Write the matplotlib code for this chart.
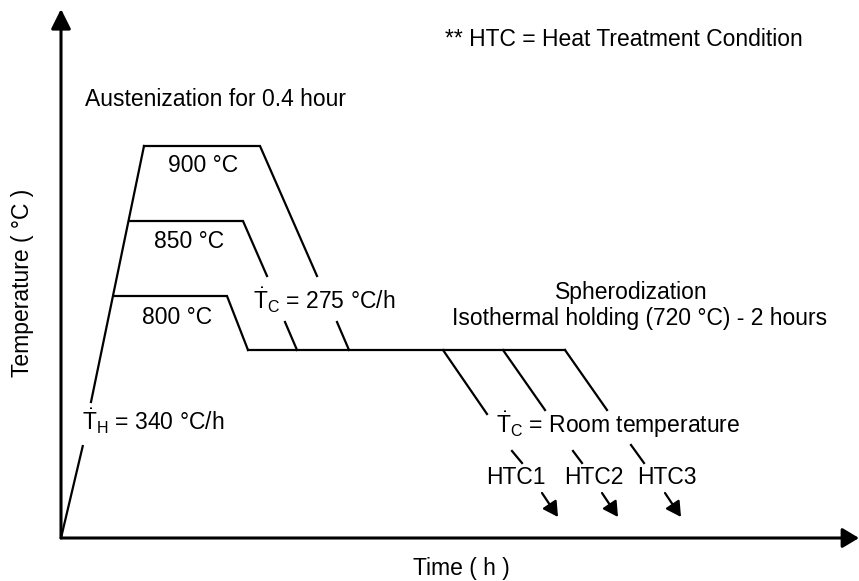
import matplotlib
matplotlib.use("Agg")
import matplotlib.pyplot as plt

plt.rcParams['font.family'] = ['Liberation Sans', 'DejaVu Sans']
plt.rcParams['mathtext.fontset'] = 'custom'
plt.rcParams['mathtext.rm'] = 'Liberation Sans'
plt.rcParams['mathtext.it'] = 'Liberation Sans:italic'
plt.rcParams['mathtext.bf'] = 'Liberation Sans:bold'

# ---- schematic geometry (canvas units, y grows downward) ----
origin = (61, 538)
x_axis_end = 859
y_axis_end = 9

# heating ramp (split around label)
heat_low_x = [61, 83]
heat_low_y = [538, 445]
heat_up_x = [91, 144]
heat_up_y = [402, 146]

# austenization plateaus: start x, end x, level y
plateau_labels = ["900", "850", "800"]
plateau_x0 = [144, 130, 114]
plateau_x1 = [260, 243, 227]
plateau_y = [146, 221, 296]

# cooling to spheroidization (upper part, gap, lower part)
cool_upper_end_x = [317, 267, 248]
cool_upper_end_y = [276, 276, 350]
cool_lower_start_x = [337, 285, None]
cool_lower_start_y = [322, 322, None]
cool_lower_end_x = [349, 297, None]

iso_y = 350
iso_x = [248, 565]

# final cooling lines
htc_names = ["HTC1", "HTC2", "HTC3"]
htc_start_x = [443, 503, 565]
htc_end_x = [487, 545, 607]
htc_end_y = [414, 410, 410]
dash_x0 = [512, 573, 631]
dash_y0 = [451, 451, 445]
dash_x1 = [522, 582, 644]
dash_y1 = [463, 463, 463]
arrow_x0 = [542, 602, 665]
arrow_x1 = [558, 618, 681]
arrow_y0 = 493
arrow_y1 = 517
htc_label_x = [516, 594, 667]
htc_label_y = 478

W, H = 859, 581
fig = plt.figure(figsize=(W / 100, H / 100), dpi=100)
ax = fig.add_axes([0, 0, 1, 1])
ax.set_xlim(0, W)
ax.set_ylim(H, 0)
ax.axis('off')

lw = 1.6
col = 'black'
fs = 16.5

# axes with arrows
ax.annotate('', xy=(x_axis_end, origin[1]), xytext=origin,
            arrowprops=dict(arrowstyle='-|>,head_length=1.0,head_width=0.6',
                            mutation_scale=10, lw=2.2, color=col,
                            shrinkA=0, shrinkB=0))
ax.annotate('', xy=(origin[0], y_axis_end), xytext=origin,
            arrowprops=dict(arrowstyle='-|>,head_length=1.2,head_width=0.6',
                            mutation_scale=10, lw=2.2, color=col,
                            shrinkA=0, shrinkB=0))

# heating
ax.plot(heat_low_x, heat_low_y, color=col, lw=lw, solid_capstyle='butt')
ax.plot(heat_up_x, heat_up_y, color=col, lw=lw, solid_joinstyle='miter')

# plateaus + cooling
for i in range(3):
    ax.plot([plateau_x0[i], plateau_x1[i], cool_upper_end_x[i]],
            [plateau_y[i], plateau_y[i], cool_upper_end_y[i]],
            color=col, lw=lw, solid_joinstyle='miter')
    if cool_lower_start_x[i] is not None:
        ax.plot([cool_lower_start_x[i], cool_lower_end_x[i]],
                [cool_lower_start_y[i], iso_y], color=col, lw=lw)

# isothermal holding
ax.plot(iso_x, [iso_y, iso_y], color=col, lw=lw)

# final cooling
for i in range(3):
    ax.plot([htc_start_x[i], htc_end_x[i]], [iso_y, htc_end_y[i]],
            color=col, lw=lw)
    ax.plot([dash_x0[i], dash_x1[i]], [dash_y0[i], dash_y1[i]],
            color=col, lw=lw)
    ax.annotate('', xy=(arrow_x1[i], arrow_y1), xytext=(arrow_x0[i], arrow_y0),
                arrowprops=dict(arrowstyle='-|>,head_length=0.9,head_width=0.5',
                                mutation_scale=10, lw=lw, color=col,
                                shrinkA=0, shrinkB=0))
    ax.text(htc_label_x[i], htc_label_y, htc_names[i], fontsize=fs,
            ha='center', va='center')

deg = '\u00b0'
# plateau labels
plateau_label_x = [203, 189, 177]
plateau_label_y = [166, 241, 317]
for i in range(3):
    ax.text(plateau_label_x[i], plateau_label_y[i],
            plateau_labels[i] + ' ' + deg + 'C', fontsize=fs,
            ha='center', va='center')

ax.text(445, 40, '** HTC = Heat Treatment Condition', fontsize=fs,
        ha='left', va='center')
ax.text(85, 99, 'Austenization for 0.4 hour', fontsize=fs,
        ha='left', va='center')
ax.text(253, 300, r'$\dot{\mathrm{T}}_{\mathrm{C}}$ = 275 ' + deg + 'C/h',
        fontsize=fs, ha='left', va='center')
ax.text(82, 421, r'$\dot{\mathrm{T}}_{\mathrm{H}}$ = 340 ' + deg + 'C/h',
        fontsize=fs, ha='left', va='center')
ax.text(631, 292, 'Spherodization', fontsize=fs, ha='center', va='center')
ax.text(640, 319, 'Isothermal holding (720 ' + deg + 'C) - 2 hours',
        fontsize=fs, ha='center', va='center')
ax.text(496, 425, r'$\dot{\mathrm{T}}_{\mathrm{C}}$ = Room temperature',
        fontsize=fs, ha='left', va='center')

ax.text(23, 283, 'Temperature ( ' + deg + 'C )', fontsize=fs, rotation=90,
        ha='center', va='center')
ax.text(461, 568, 'Time ( h )', fontsize=fs, ha='center', va='center')

fig.savefig('out.png', dpi=100)
